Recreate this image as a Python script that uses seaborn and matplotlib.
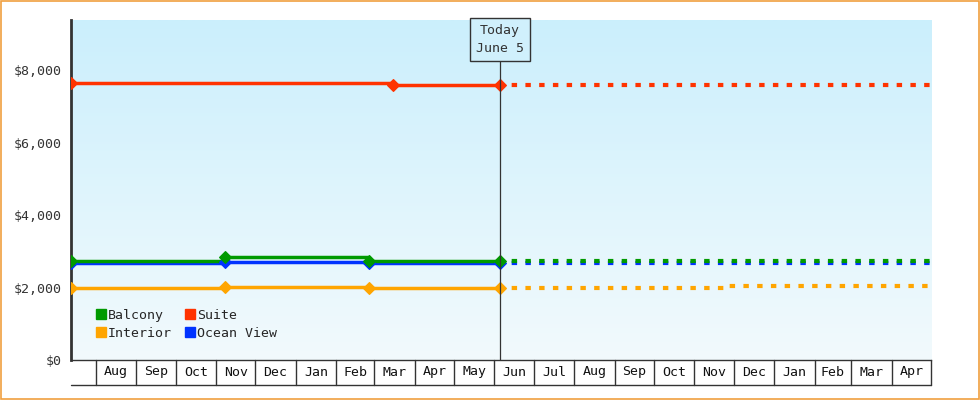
import matplotlib
matplotlib.use("Agg")
import matplotlib.pyplot as plt
import seaborn as sns
import pandas as pd
import numpy as np
from matplotlib.colors import LinearSegmentedColormap
from matplotlib.patches import Patch

sns.set_style("white")
plt.rcParams['font.family'] = ['DejaVu Sans Mono']

series = ["Balcony", "Suite", "Interior", "Ocean View"]
colors = {"Balcony": "#009a00", "Suite": "#ff3300", "Interior": "#ffa500", "Ocean View": "#0033ff"}

hist_dates = {
    "Balcony": ["2023-07-13", "2023-11-08", "2024-02-26", "2024-06-05"],
    "Suite": ["2023-07-13", "2024-03-15", "2024-06-05"],
    "Interior": ["2023-07-13", "2023-11-08", "2024-02-26", "2024-06-05"],
    "Ocean View": ["2023-07-13", "2023-11-08", "2024-02-26", "2024-06-05"],
}
hist_vals = {
    "Balcony": [2740, 2840, 2740, 2740],
    "Suite": [7650, 7600, 7600],
    "Interior": [1990, 2020, 1990, 1990],
    "Ocean View": [2680, 2700, 2680, 2680],
}
fut_dates = {
    "Balcony": ["2024-06-05", "2025-05-01"],
    "Suite": ["2024-06-05", "2025-05-01"],
    "Interior": ["2024-06-05", "2024-11-25", "2025-05-01"],
    "Ocean View": ["2024-06-05", "2025-05-01"],
}
fut_vals = {
    "Balcony": [2740, 2740],
    "Suite": [7600, 7600],
    "Interior": [1990, 2030, 2030],
    "Ocean View": [2680, 2680],
}
month_labels = ["Aug","Sep","Oct","Nov","Dec","Jan","Feb","Mar","Apr","May","Jun","Jul",
                "Aug","Sep","Oct","Nov","Dec","Jan","Feb","Mar","Apr"]
month_starts = pd.date_range("2023-08-01", "2025-05-01", freq="MS")
today = pd.Timestamp("2024-06-05")
x0, x1 = pd.Timestamp("2023-07-13"), pd.Timestamp("2025-05-01")

fig = plt.figure(figsize=(9.8, 4), dpi=100)
fig.patch.set_facecolor("white")
ax = fig.add_axes([71/980, 40/400, 860/980, 340/400])
grad = np.linspace(0, 1, 256).reshape(-1, 1)
cmap = LinearSegmentedColormap.from_list("bg", ["#f2fafd", "#cbeffc"])
ax.imshow(grad, aspect="auto", cmap=cmap, extent=[0, 1, 0, 1], origin="lower",
          transform=ax.transAxes, zorder=0)

order = ["Interior", "Ocean View", "Balcony", "Suite"]
for s in order:
    hd = pd.DataFrame({"date": pd.to_datetime(hist_dates[s]), "v": hist_vals[s]})
    sns.lineplot(data=hd, x="date", y="v", ax=ax, color=colors[s], lw=2.5, drawstyle="steps-post", zorder=3)
    ax.scatter(hd["date"], hd["v"], color=colors[s], marker="D", s=35, zorder=4)
    fd = pd.DataFrame({"date": pd.to_datetime(fut_dates[s]), "v": fut_vals[s]})
    sns.lineplot(data=fd, x="date", y="v", ax=ax, color=colors[s], lw=3, drawstyle="steps-post",
                 linestyle=(0.5, (1.3, 2.0)), zorder=3)

ax.set_xlim(x0, x1)
ax.set_ylim(0, 9380)
ax.set_xlabel(""); ax.set_ylabel("")
ax.set_yticks([0, 2000, 4000, 6000, 8000])
ax.set_yticklabels(["$0", "$2,000", "$4,000", "$6,000", "$8,000"], fontsize=9.5, color="#333")
ax.tick_params(axis="y", length=5, width=2, color="#333", direction="out", pad=2)
ax.set_xticks([])
for sp in ["top", "right"]:
    ax.spines[sp].set_visible(False)
ax.spines["left"].set_linewidth(2); ax.spines["left"].set_color("#333")
ax.spines["bottom"].set_linewidth(1); ax.spines["bottom"].set_color("#333")

ax.axvline(today, color="#333", lw=0.9, zorder=5)
ax.text(today, 8830, "Today\nJune 5", ha="center", va="center", fontsize=9.5, color="#333",
        linespacing=1.5, zorder=6,
        bbox=dict(boxstyle="square,pad=0.45", fc="#d0f0fc", ec="#333", lw=1))

trans = ax.get_xaxis_transform()
for i, m in enumerate(month_starts):
    ax.plot([m, m], [0, -25/340], transform=trans, color="#333", lw=1, clip_on=False)
    nxt = month_starts[i+1] if i + 1 < len(month_starts) else x1
    if i < len(month_labels):
        mid = m + (nxt - m) / 2
        ax.text(mid, -12/340, month_labels[i], transform=trans, ha="center", va="center",
                fontsize=9.5, color="#111")
ax.plot([x0, x1], [-25/340, -25/340], transform=trans, color="#333", lw=1, clip_on=False)

handles = [Patch(color=colors[s]) for s in ["Balcony", "Interior", "Suite", "Ocean View"]]
ax.legend(handles, ["Balcony", "Interior", "Suite", "Ocean View"], ncol=2, loc="lower left",
          bbox_to_anchor=(0.015, 0.025), frameon=False, fontsize=9.5, handlelength=0.8,
          handleheight=0.8, handletextpad=0.1, columnspacing=1.0, labelspacing=0.35)

border = plt.Rectangle((0.001, 0.002), 0.998, 0.996, transform=fig.transFigure, fill=False,
                       ec="#f0a040", lw=1.2)
fig.patches.append(border)
fig.savefig("out.png", dpi=100)
